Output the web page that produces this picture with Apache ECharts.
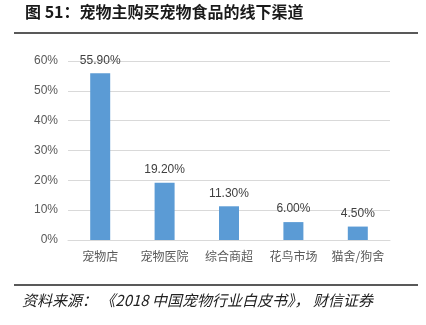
<!DOCTYPE html>
<html>
<head>
<meta charset="utf-8">
<script src="https://cdn.jsdelivr.net/npm/echarts@6/dist/echarts.min.js"></script>
<style>
  html, body { margin: 0; padding: 0; background: #fff; }
  #chart { width: 426px; height: 325px; }
</style>
</head>
<body>
<div id="chart"></div>
<script>
// Offline channels where pet owners buy pet food (share of respondents, %)
const channels = ['宠物店', '宠物医院', '综合商超', '花鸟市场', '猫舍/狗舍'];
const shares = [55.9, 19.2, 11.3, 6.0, 4.5];
const yTicks = [0, 10, 20, 30, 40, 50, 60];

const chart = echarts.init(document.getElementById('chart'), null, { renderer: 'canvas' });
const cjk = '"Noto Sans CJK SC", "Noto Sans", sans-serif';

chart.setOption({
  animation: false,
  backgroundColor: '#ffffff',
  graphic: [
    {
      type: 'text', left: 25, top: 4,
      style: { text: '图 51：宠物主购买宠物食品的线下渠道', font: 'bold 16px ' + cjk, fill: '#1a1a1a' }
    },
    {
      type: 'line', shape: { x1: 14, y1: 33, x2: 418, y2: 33 },
      style: { stroke: '#222', lineWidth: 1.5 }
    },
    {
      type: 'line', shape: { x1: 14, y1: 285, x2: 418, y2: 285 },
      style: { stroke: '#222', lineWidth: 1.5 }
    },
    {
      type: 'text', left: 22, top: 293,
      style: { text: '资料来源： 《2018 中国宠物行业白皮书》， 财信证券', font: 'italic 15px ' + cjk, fill: '#222' }
    }
  ],
  grid: { left: 68, right: 36, top: 61, bottom: 85, containLabel: false },
  xAxis: {
    type: 'category',
    data: channels,
    axisLine: { show: true, lineStyle: { color: '#d9d9d9', width: 1 } },
    axisTick: { show: false },
    axisLabel: { interval: 0, color: '#595959', fontSize: 12, fontFamily: cjk, margin: 10 }
  },
  yAxis: {
    type: 'value',
    min: yTicks[0],
    max: yTicks[yTicks.length - 1],
    interval: 10,
    axisLine: { show: false },
    axisTick: { show: false },
    splitLine: { lineStyle: { color: '#d9d9d9', width: 1 } },
    axisLabel: { color: '#595959', fontSize: 12, fontFamily: 'Liberation Sans, sans-serif', margin: 10, formatter: '{value}%' }
  },
  series: [{
    type: 'bar',
    data: shares,
    barWidth: 20,
    itemStyle: { color: '#5b9bd5' },
    label: {
      show: true,
      position: 'top',
      distance: 7,
      color: '#404040',
      fontSize: 12,
      fontFamily: 'Liberation Sans, sans-serif',
      formatter: p => p.value.toFixed(2) + '%'
    }
  }]
});
</script>
</body>
</html>
